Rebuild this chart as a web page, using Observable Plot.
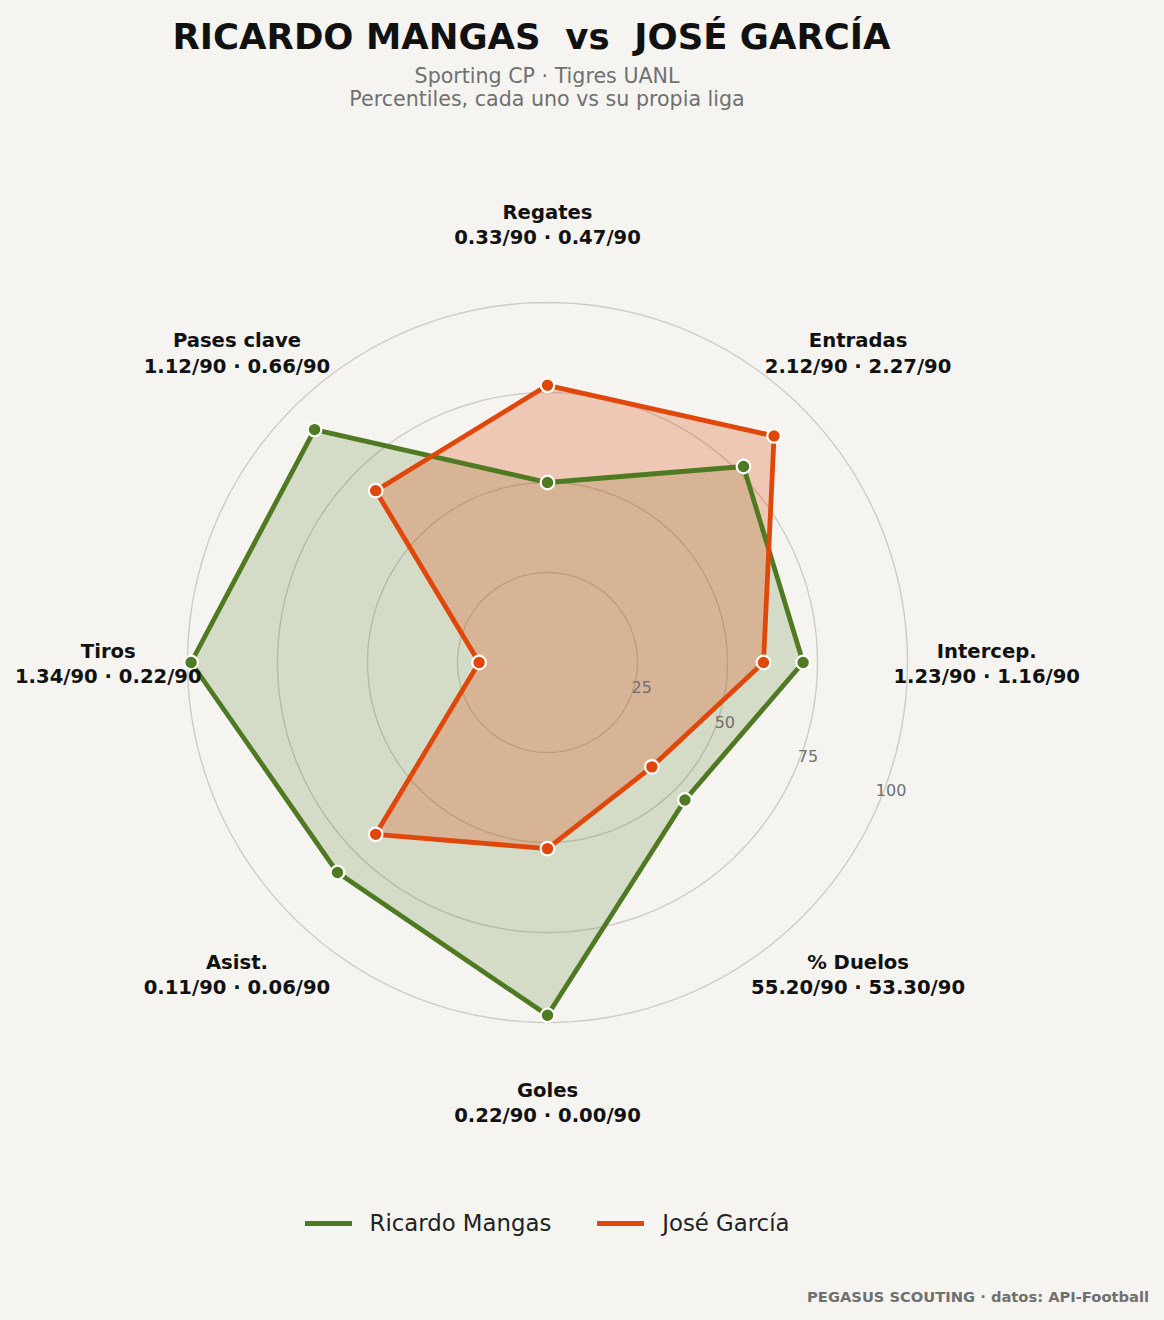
<!DOCTYPE html>
<html>
<head>
<meta charset="utf-8">
<script src="https://cdn.jsdelivr.net/npm/d3@7"></script>
<script src="https://cdn.jsdelivr.net/npm/@observablehq/plot@0.6"></script>
<style>
  html, body { margin: 0; padding: 0; background: #f5f4f1; }
  #page { position: relative; width: 1164px; height: 1320px; background: #f5f4f1; font-family: "DejaVu Sans", sans-serif; overflow: hidden; }
  #title { position: absolute; top: 16px; left: 0; width: 1063px; text-align: center; font-weight: bold; font-size: 35.5px; color: #111; white-space: pre; }
  #sub { position: absolute; top: 65px; left: 0; width: 1094px; text-align: center; font-size: 20.6px; line-height: 23px; color: #707070; }
  #chart { position: absolute; top: 130px; left: 0; }
  #legend { position: absolute; top: 1210px; left: 0; width: 1094px; display: flex; justify-content: center; gap: 46px; font-size: 22.8px; color: #222; }
  #legend .item { display: flex; align-items: center; gap: 18px; }
  #legend .sw { width: 47px; height: 5px; }
  #caption { position: absolute; top: 1288px; right: 15px; font-size: 14.7px; font-weight: bold; color: #707070; }
</style>
</head>
<body>
<div id="page">
  <div id="title">RICARDO MANGAS  vs  JOSÉ GARCÍA</div>
  <div id="sub">Sporting CP · Tigres UANL<br>Percentiles, cada uno vs su propia liga</div>
  <div id="chart"></div>
  <div id="legend"></div>
  <div id="caption">PEGASUS SCOUTING · datos: API-Football</div>
</div>
<script>
// ---- data ----
const metrics = ["Regates", "Entradas", "Intercep.", "% Duelos", "Goles", "Asist.", "Tiros", "Pases clave"];
const mangasRaw = ["0.33/90", "2.12/90", "1.23/90", "55.20/90", "0.22/90", "0.11/90", "1.34/90", "1.12/90"];
const garciaRaw = ["0.47/90", "2.27/90", "1.16/90", "53.30/90", "0.00/90", "0.06/90", "0.22/90", "0.66/90"];
const mangasPct = [50, 77, 71, 54, 98, 82.5, 99, 91.5];
const garciaPct = [77, 89, 60, 41, 51.7, 67.5, 19, 67.5];
const players = ["Ricardo Mangas", "José García"];
const colors = ["#4f7a21", "#e0470a"];
const fillOpacity = [0.2, 0.26];
const ringTicks = [25, 50, 75, 100];
const labelRadius = 122;
const tickAngle = 112.5; // degrees clockwise from top

// ---- geometry helpers (polar -> cartesian data units) ----
const angleOf = i => (i / metrics.length) * 2 * Math.PI;
const px = (r, a) => r * Math.sin(a);
const py = (r, a) => r * Math.cos(a);

const series = [mangasPct, garciaPct].map((vals, s) =>
  vals.map((v, i) => ({player: players[s], metric: metrics[i], v, x: px(v, angleOf(i)), y: py(v, angleOf(i))}))
);

const rings = ringTicks.map(t => d3.range(0, 361, 2).map(deg => ({t, x: px(t, deg * Math.PI / 180), y: py(t, deg * Math.PI / 180)})));

const labels = metrics.map((m, i) => ({
  text: `${m}\n${mangasRaw[i]} · ${garciaRaw[i]}`,
  x: px(labelRadius, angleOf(i)), y: py(labelRadius, angleOf(i))
}));

const tickLabels = ringTicks.map(t => ({t, x: px(t, tickAngle * Math.PI / 180), y: py(t, tickAngle * Math.PI / 180)}));

// ---- layout ----
const W = 1164, H = 1060, cx = 547, cy = 532, k = 3.6;

const chart = Plot.plot({
  width: W, height: H,
  margin: 0,
  style: {background: "transparent", fontFamily: "DejaVu Sans, sans-serif"},
  x: {domain: [-cx / k, (W - cx) / k], axis: null},
  y: {domain: [-(H - cy) / k, cy / k], axis: null},
  marks: [
    ...rings.map(r => Plot.line(r, {x: "x", y: "y", stroke: "#cfccc7", strokeWidth: 1.4, curve: "linear-closed"})),
    ...series.map((d, s) => Plot.line(d, {x: "x", y: "y", fill: colors[s], fillOpacity: fillOpacity[s], stroke: "none", curve: "linear-closed"})),
    ...series.map((d, s) => Plot.line(d, {x: "x", y: "y", stroke: colors[s], strokeWidth: 4.8, curve: "linear-closed", strokeLinejoin: "miter"})),
    ...series.map((d, s) => Plot.dot(d, {x: "x", y: "y", r: 6.8, fill: colors[s], stroke: "white", strokeWidth: 2.2})),
    Plot.text(tickLabels, {x: "x", y: "y", text: d => String(d.t), dx: 11, dy: -9, fill: "#707070", fontSize: 16}),
    Plot.text(labels, {x: "x", y: "y", text: "text", fontSize: 19.6, fontWeight: "bold", fill: "#111", lineHeight: 1.28})
  ]
});
document.getElementById("chart").appendChild(chart);

const legend = document.getElementById("legend");
players.forEach((p, s) => {
  const item = document.createElement("div");
  item.className = "item";
  item.innerHTML = `<span class="sw" style="background:${colors[s]}"></span><span>${p}</span>`;
  legend.appendChild(item);
});
</script>
</body>
</html>
